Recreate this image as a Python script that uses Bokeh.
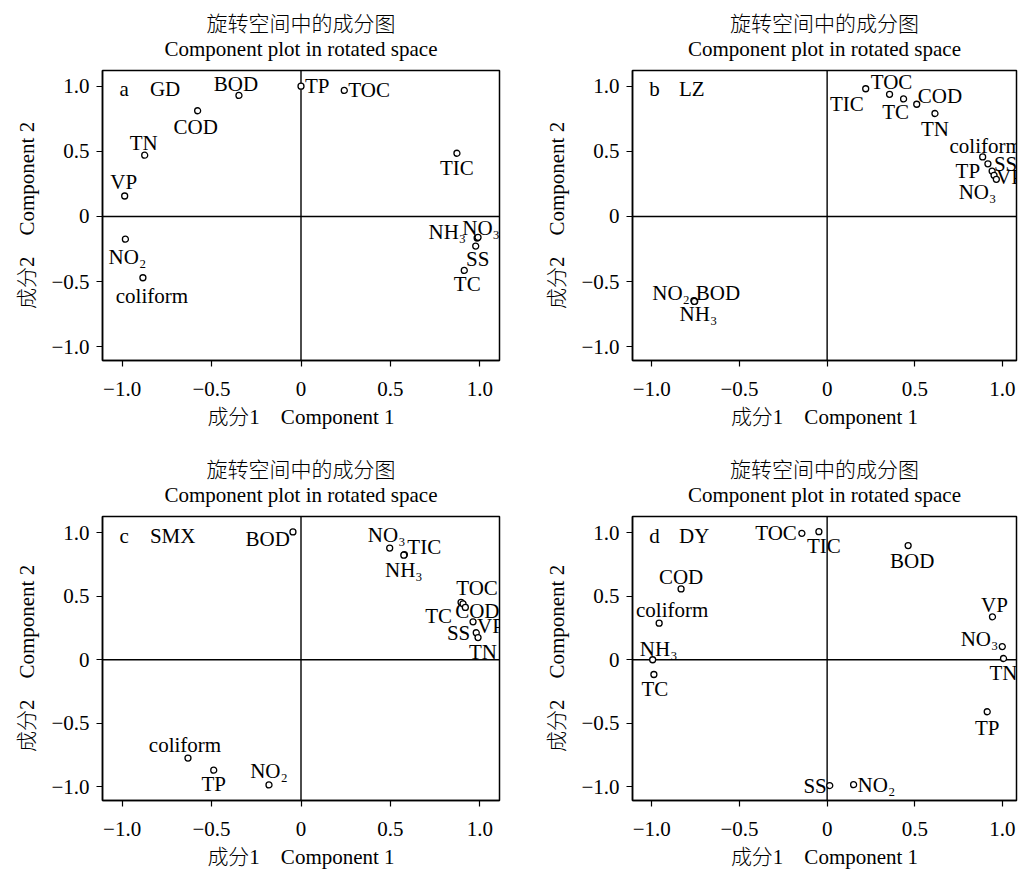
from bokeh.plotting import figure
from bokeh.layouts import row, column
from bokeh.models import Span, Title, FixedTicker, Label, ColumnDataSource
from bokeh.core.properties import value
from bokeh.embed import file_html
from bokeh.resources import INLINE

SERIF = "Liberation Serif, Noto Sans CJK SC Light, Noto Sans CJK SC"
FS = "21px"

# ---------------- data ----------------
TICKS = [-1.0, -0.5, 0.0, 0.5, 1.0]
TICK_LABELS = ["\u22121.0", "\u22120.5", "0", "0.5", "1.0"]

TITLE_CN = "旋转空间中的成分图"
TITLE_EN = "Component plot in rotated space"
XLABEL = "成分1\u3000Component 1"
YLABEL = "成分2\u3000Component 2"

# panel a — GD
a_names = ["BOD", "TP", "TOC", "COD", "TN", "VP", "TIC", "NO₂", "coliform", "NH₃", "NO₃", "SS", "TC"]
a_comp1 = [-0.347, 0.000, 0.242, -0.578, -0.874, -0.986, 0.872, -0.982, -0.884, 0.985, 0.990, 0.977, 0.913]
a_comp2 = [0.929, 1.000, 0.967, 0.811, 0.470, 0.157, 0.485, -0.174, -0.470, -0.165, -0.160, -0.227, -0.414]

# panel b — LZ
b_names = ["TIC", "TOC", "TC", "COD", "TN", "coliform", "SS", "TP", "VP", "NO₃", "NO₂", "BOD", "NH₃"]
b_comp1 = [0.220, 0.356, 0.436, 0.511, 0.615, 0.887, 0.917, 0.941, 0.952, 0.965, -0.760, -0.755, -0.757]
b_comp2 = [0.980, 0.937, 0.902, 0.861, 0.790, 0.457, 0.404, 0.348, 0.316, 0.285, -0.645, -0.650, -0.652]

# panel c — SMX
c_names = ["BOD", "NO₃", "TIC", "NH₃", "TOC", "TC", "COD", "VP", "SS", "TN", "coliform", "TP", "NO₂"]
c_comp1 = [-0.045, 0.496, 0.578, 0.575, 0.895, 0.906, 0.919, 0.962, 0.980, 0.990, -0.632, -0.488, -0.179]
c_comp2 = [1.008, 0.881, 0.830, 0.825, 0.453, 0.441, 0.413, 0.299, 0.213, 0.175, -0.775, -0.871, -0.987]

# panel d — DY
d_names = ["TOC", "TIC", "BOD", "COD", "coliform", "NH₃", "TC", "VP", "NO₃", "TN", "TP", "SS", "NO₂"]
d_comp1 = [-0.144, -0.047, 0.462, -0.833, -0.958, -0.995, -0.988, 0.943, 0.999, 1.006, 0.913, 0.015, 0.151]
d_comp2 = [0.997, 1.010, 0.901, 0.559, 0.289, 0.000, -0.116, 0.339, 0.104, 0.010, -0.410, -0.992, -0.985]

# ---------------- label placement (screen px offsets, alignment) ----------------
a_lab = [(-3, -11, "center"), (4, 0, "left"), (4, 0, "left"), (-2, 16, "center"), (-1, -12, "center"),
         (-1, -14, "center"), (0, 15, "center"), (2, 18, "center"), (9, 18, "center"), (-11, -6, "right"),
         (3, -9, "center"), (2, 13, "center"), (3, 14, "center")]
b_lab = [(-2, 15, "right"), (2, -12, "center"), (-8, 13, "center"), (1, -8, "left"), (0, 15, "center"),
         (3, -11, "center"), (6, 0, "left"), (-12, 0, "right"), (2, 2, "left"), (0, 13, "right"),
         (-4, -8, "right"), (1, -8, "left"), (4, 13, "center")]
c_lab = [(-3, 7, "right"), (-3, -13, "center"), (3, -8, "left"), (0, 15, "center"), (16, -14, "center"),
         (-11, 12, "right"), (12, 4, "center"), (4, 4, "left"), (-6, 0, "right"), (5, 14, "center"),
         (-3, -13, "center"), (0, 14, "center"), (0, -14, "center")]
d_lab = [(-5, 0, "right"), (5, 14, "center"), (4, 15, "center"), (0, -12, "center"), (13, -13, "center"),
         (6, -11, "center"), (1, 15, "center"), (2, -12, "center"), (-4, -8, "right"), (0, 14, "center"),
         (0, 16, "center"), (-3, 0, "right"), (4, 0, "left")]


def make_panel(names, comp1, comp2, lab, letter, site, width, height, x_end,
               bl, br, bt, bb, y_lo, y_hi):
    p = figure(width=width, height=height, x_range=(-1.11, x_end), y_range=(y_lo, y_hi),
               output_backend="svg", toolbar_location=None, title=None,
               min_border_left=bl, min_border_right=br, min_border_top=bt, min_border_bottom=bb,
               background_fill_color="white", border_fill_color="white")
    p.grid.visible = False
    p.outline_line_color = "black"
    p.outline_line_width = 1.5
    p.outline_line_alpha = 1.0

    for ax in (p.xaxis[0], p.yaxis[0]):
        ax.ticker = FixedTicker(ticks=TICKS)
        ax.major_label_overrides = dict(zip(TICKS, TICK_LABELS))
        ax.major_tick_out = 6
        ax.major_tick_in = 0
        ax.minor_tick_out = 0
        ax.minor_tick_in = 0
        ax.major_tick_line_color = "black"
        ax.major_tick_line_width = 1.2
        ax.axis_line_color = "black"
        ax.axis_line_width = 1.5
        ax.major_label_text_font = SERIF
        ax.major_label_text_font_size = FS
        ax.major_label_text_color = "black"
        ax.axis_label_text_font = SERIF
        ax.axis_label_text_font_size = FS
        ax.axis_label_text_font_style = "normal"
        ax.axis_label_text_color = "black"
    p.xaxis.axis_label = XLABEL
    p.yaxis.axis_label = YLABEL
    p.xaxis.major_label_standoff = 15
    p.xaxis.axis_label_standoff = 6
    p.yaxis.major_label_standoff = 7
    p.yaxis.axis_label_standoff = 9

    # two-line title; the Chinese line is padded so that both lines look centred
    p.add_layout(Title(text="\u3000\u3000" + TITLE_CN + "\n" + TITLE_EN, align="center",
                       text_font=SERIF, text_font_size=FS, text_font_style="normal",
                       text_color="black", text_line_height=1.03, standoff=19), "above")

    p.add_layout(Span(location=0, dimension="width", line_color="black", line_width=1.4, level="underlay"))
    p.add_layout(Span(location=0, dimension="height", line_color="black", line_width=1.4, level="underlay"))

    src = ColumnDataSource(dict(c1=comp1, c2=comp2, name=names,
                                dx=[l[0] for l in lab], dy=[l[1] for l in lab],
                                align=[l[2] for l in lab]))
    p.text(x="c1", y="c2", text="name", x_offset="dx", y_offset="dy", text_align="align",
           text_baseline="middle", text_font=value(SERIF), text_font_size=value(FS),
           text_color="black", source=src)
    p.scatter(x="c1", y="c2", source=src, marker="circle", size=6, fill_color="white",
              line_color="black", line_width=1.3)

    p.add_layout(Label(x=-1.015, y=0.98, text=letter, text_font=SERIF, text_font_size=FS,
                       text_baseline="middle", text_align="left", text_color="black"))
    p.add_layout(Label(x=-0.845, y=0.98, text=site, text_font=SERIF, text_font_size=FS,
                       text_baseline="middle", text_align="left", text_color="black"))
    return p


pa = make_panel(a_names, a_comp1, a_comp2, a_lab, "a", "GD", 535, 446, 1.11, 102, 36, 68, 86, -1.105, 1.12)
pb = make_panel(b_names, b_comp1, b_comp2, b_lab, "b", "LZ", 483, 446, 1.08, 97, 2, 68, 86, -1.105, 1.12)
pc = make_panel(c_names, c_comp1, c_comp2, c_lab, "c", "SMX", 535, 425, 1.11, 102, 36, 68, 68, -1.11, 1.13)
pd = make_panel(d_names, d_comp1, d_comp2, d_lab, "d", "DY", 483, 425, 1.08, 97, 2, 68, 68, -1.11, 1.13)

layout = column(row(pa, pb), row(pc, pd))

with open("out.html", "w") as f:
    f.write(file_html(layout, INLINE))
